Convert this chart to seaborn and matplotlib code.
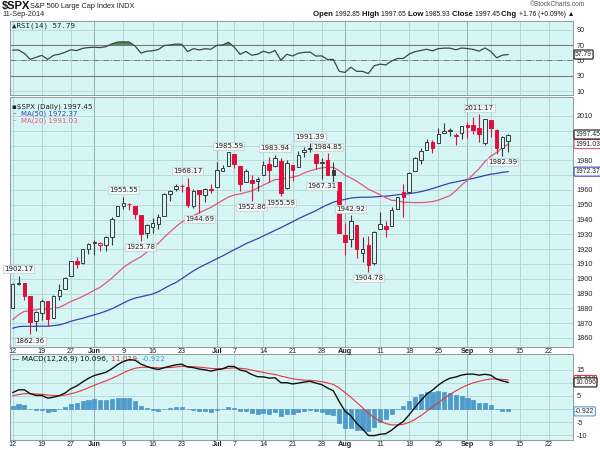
import numpy as np
import pandas as pd
import matplotlib
matplotlib.use("Agg")
import matplotlib.pyplot as plt
import seaborn as sns

sns.set_theme(style="white")
plt.rcParams["font.family"] = ["DejaVu Sans"]

# $SPX daily bars, 12-May-2014 .. 11-Sep-2014
dates = pd.bdate_range("2014-05-12", "2014-09-11")
dates = dates.drop(pd.to_datetime(["2014-05-26", "2014-07-04", "2014-09-01"]))

opens = [1880.03, 1896.75, 1897.13, 1888.16, 1871.19, 1876.66, 1884.88, 1873.34, 1888.19, 1893.32,
         1902.01, 1911.77, 1910.60, 1920.33, 1923.87, 1923.07, 1923.06, 1928.52, 1942.41, 1948.97,
         1950.34, 1949.37, 1943.35, 1930.80, 1934.84, 1937.15, 1942.73, 1957.50, 1960.45, 1962.92,
         1961.97, 1949.27, 1959.89, 1956.56, 1960.79, 1962.29, 1973.06, 1975.88, 1984.22, 1976.39,
         1965.10, 1966.67, 1965.76, 1969.86, 1977.36, 1976.35, 1979.75, 1961.54, 1976.93, 1975.65,
         1985.32, 1988.07, 1984.60, 1978.25, 1980.03, 1973.21, 1965.14, 1929.80, 1926.62, 1936.34,
         1917.29, 1923.03, 1910.35, 1933.43, 1935.73, 1935.60, 1947.41, 1958.87, 1958.36, 1972.73,
         1980.46, 1986.82, 1992.60, 1991.74, 1998.59, 2000.54, 1997.42, 1998.45, 2004.07, 2003.57,
         2001.67, 1992.00, 2007.17, 2000.73, 1988.41, 1992.85]
highs = [1897.13, 1902.17, 1897.13, 1888.16, 1878.28, 1886.00, 1884.88, 1888.80, 1896.33, 1901.26,
         1912.28, 1914.46, 1920.03, 1924.03, 1925.88, 1925.07, 1928.63, 1941.74, 1949.44, 1955.55,
         1950.86, 1949.37, 1943.35, 1937.30, 1941.15, 1943.69, 1957.74, 1959.87, 1963.91, 1963.74,
         1968.17, 1960.83, 1959.89, 1961.47, 1964.24, 1978.58, 1976.67, 1985.59, 1984.22, 1976.39,
         1974.15, 1969.84, 1968.67, 1979.85, 1982.52, 1983.94, 1981.80, 1979.91, 1976.93, 1986.24,
         1989.23, 1991.39, 1984.60, 1981.52, 1984.85, 1978.90, 1965.14, 1937.35, 1942.92, 1936.34,
         1927.91, 1928.89, 1932.38, 1944.90, 1939.20, 1948.41, 1955.23, 1964.04, 1971.99, 1982.57,
         1988.57, 1994.76, 1993.54, 2001.95, 2005.04, 2002.14, 1998.55, 2003.38, 2006.12, 2009.28,
         2011.17, 2007.71, 2007.17, 2001.01, 1996.66, 1997.65]
lows = [1880.03, 1896.06, 1885.77, 1862.36, 1864.82, 1872.42, 1868.14, 1873.34, 1885.39, 1893.32,
        1902.01, 1907.30, 1909.82, 1916.64, 1915.98, 1918.79, 1918.60, 1922.93, 1942.41, 1947.16,
        1946.22, 1940.08, 1925.78, 1927.69, 1930.91, 1933.55, 1942.73, 1952.26, 1959.17, 1958.89,
        1948.34, 1947.49, 1944.69, 1952.18, 1958.22, 1962.29, 1972.58, 1975.88, 1974.88, 1959.46,
        1965.10, 1952.86, 1959.63, 1969.86, 1965.34, 1975.67, 1955.59, 1960.82, 1965.77, 1975.65,
        1982.44, 1985.79, 1974.37, 1967.31, 1969.95, 1962.42, 1930.67, 1916.37, 1921.20, 1913.77,
        1911.45, 1904.78, 1909.01, 1933.43, 1928.29, 1935.60, 1947.41, 1941.50, 1958.36, 1972.73,
        1977.68, 1986.82, 1984.76, 1991.74, 1998.59, 1996.20, 1990.52, 1994.65, 1994.85, 1998.14,
        1992.44, 1990.10, 1995.60, 1984.61, 1982.99, 1985.93]
closes = [1896.65, 1897.45, 1888.53, 1870.85, 1877.86, 1885.08, 1872.83, 1888.03, 1892.49, 1900.53,
          1911.91, 1909.78, 1920.03, 1923.57, 1924.97, 1924.24, 1927.88, 1940.46, 1949.44, 1951.27,
          1950.79, 1943.89, 1930.11, 1936.16, 1937.78, 1941.99, 1956.98, 1959.48, 1962.87, 1962.61,
          1949.98, 1959.53, 1957.22, 1960.96, 1960.23, 1973.32, 1974.62, 1985.44, 1977.65, 1963.71,
          1972.83, 1964.68, 1967.57, 1977.10, 1973.28, 1981.57, 1958.12, 1978.22, 1973.63, 1983.53,
          1987.01, 1987.98, 1978.34, 1978.91, 1969.95, 1970.07, 1930.67, 1925.15, 1938.99, 1920.21,
          1920.24, 1909.57, 1931.59, 1936.92, 1933.75, 1946.72, 1955.18, 1955.06, 1971.74, 1981.60,
          1986.51, 1992.37, 1988.40, 1997.92, 2000.02, 2000.12, 1996.74, 2003.37, 2002.28, 2000.72,
          1997.65, 2007.71, 2001.54, 1988.44, 1995.69, 1997.45]

# closes 3-Mar .. 9-May 2014, needed to warm up MA / MACD / RSI
prior_closes = [1845.73, 1873.91, 1873.81, 1877.03, 1878.04, 1877.17, 1867.63, 1868.20, 1846.34, 1841.13,
                1858.83, 1872.25, 1860.77, 1872.01, 1866.52, 1857.44, 1865.62, 1852.56, 1849.04, 1857.62,
                1872.34, 1885.52, 1890.90, 1888.77, 1865.09, 1845.04, 1851.96, 1872.18, 1833.08, 1815.69,
                1830.61, 1842.98, 1862.31, 1864.85, 1871.89, 1879.55, 1875.39, 1878.61, 1863.40, 1869.43,
                1878.33, 1883.95, 1883.68, 1881.14, 1884.66, 1867.72, 1878.21, 1875.63, 1878.48]

# marked swing highs / lows (bar index)
peak_idx = [1, 19, 30, 37, 45, 51, 54, 58, 80]
trough_idx = [3, 22, 32, 41, 46, 53, 61, 84]

tick_idx = [0, 5, 10, 14, 19, 24, 29, 35, 38, 43, 48, 53, 57, 63, 68, 73, 78, 82, 87, 92]
tick_labels = ["12", "19", "27", "Jun", "9", "16", "23", "Jul", "7", "14", "21", "28",
               "Aug", "11", "18", "25", "Sep", "8", "15", "22"]

last_close = 1997.45
ma50_last, ma20_last = 1972.37, 1991.03
rsi_last = 57.79
macd_last, signal_last, hist_last = 10.096, 11.019, -0.922

# ---- indicators
n = len(closes)
allc = pd.Series(prior_closes + closes)
ma50 = allc.rolling(50).mean().iloc[-n:].values
ma20 = allc.rolling(20).mean().iloc[-n:].values
ema12 = allc.ewm(span=12, adjust=False).mean()
ema26 = allc.ewm(span=26, adjust=False).mean()
macd_all = ema12 - ema26
sig_all = macd_all.ewm(span=9, adjust=False).mean()
macd = macd_all.iloc[-n:].values
signal = sig_all.iloc[-n:].values
hist = macd - signal
d = allc.diff()
gain = d.clip(lower=0).ewm(alpha=1 / 14, adjust=False).mean()
loss = (-d.clip(upper=0)).ewm(alpha=1 / 14, adjust=False).mean()
rsi = (100 - 100 / (1 + gain / loss)).iloc[-n:].values

BG = "#d6f5f5"
GRID = "#b6d4d4"
MONTH = "#93b0b0"
RED = "#e0103c"
DARK = "#3a3a3a"
BLUE_MA = "#3344b0"
RED_MA = "#e4587a"
HIST = "#4d9ccf"
TICKFONT = "Liberation Sans"

fig = plt.figure(figsize=(6, 4.5), dpi=100)
W, H = 600, 450
ax_r = fig.add_axes([10 / W, 1 - 95 / H, 563 / W, 74 / H])
ax = fig.add_axes([10 / W, 1 - 347 / H, 563 / W, 250 / H])
ax_m = fig.add_axes([10 / W, 1 - 440 / H, 563 / W, 86 / H])
ax.set_zorder(3)
x = np.arange(n)

for a in (ax_r, ax, ax_m):
    a.set_facecolor(BG)
    a.set_xlim(-0.46, 96.1)
    for t, lab in zip(tick_idx, tick_labels):
        a.axvline(t, color=MONTH if lab.isalpha() else GRID, lw=0.7, zorder=0.5)
    a.yaxis.tick_right()
    a.tick_params(axis="y", length=0, labelsize=5.2, pad=2.5, colors="#222222")
    a.tick_params(axis="x", length=0, labelsize=5.2, pad=1, colors="#222222")
    a.set_xticks(tick_idx)
    a.set_xticklabels(tick_labels)
    for s in a.spines.values():
        s.set_color("#8c9c9c")
        s.set_linewidth(0.7)
ax_r.set_xticklabels([])

# ---- RSI panel
ax_r.set_ylim(4.8, 101.7)
ax_r.set_yticks([10, 30, 50, 70, 90])
for v in [10, 30, 50, 70, 90]:
    ax_r.axhline(v, color=GRID, lw=0.6, zorder=0.5)
ax_r.axhline(70, color="#7a7a7a", lw=0.8, zorder=1)
ax_r.axhline(30, color="#7a7a7a", lw=0.8, zorder=1)
ax_r.axhline(50, color="#7a7a7a", lw=0.7, ls="-.", zorder=1)
ax_r.fill_between(x, rsi, 70, where=rsi > 70, interpolate=True, color="#4f8a5c", lw=0, zorder=2)
ax_r.fill_between(x, rsi, 30, where=rsi < 30, interpolate=True, color="#4f8a5c", lw=0, zorder=2)
sns.lineplot(x=x, y=rsi, ax=ax_r, color="#444444", lw=0.9, zorder=3)
ax_r.set_ylabel("")
ax_r.text(0.004, 0.93, "\u25b2RSI(14) " + f"{rsi_last:.2f}", transform=ax_r.transAxes,
          fontsize=5.3, va="center", color="#222222", family="DejaVu Sans Mono")

# ---- price panel
ax.set_ylim(1853.9, 2022.8)
pticks = list(range(1860, 2011, 10))
ax.set_yticks(pticks)
ax.set_yticklabels(["" if v in (1970, 1990, 2000) else str(v) for v in pticks])
for v in pticks:
    ax.axhline(v, color=GRID, lw=0.6, zorder=0.5)

sns.lineplot(x=x, y=ma50, ax=ax, color=BLUE_MA, lw=0.9, zorder=2)
sns.lineplot(x=x, y=ma20, ax=ax, color=RED_MA, lw=0.9, zorder=2)

o = np.array(opens)
c = np.array(closes)
prev = np.array([prior_closes[-1]] + closes[:-1])
cols = np.where(c < prev, RED, DARK)
hollow = c >= o
ax.vlines(x, lows, highs, colors=cols, lw=0.8, zorder=3)
lo = np.minimum(o, c)
ht = np.maximum(np.abs(c - o), 0.35)
face = [BG if h else col for h, col in zip(hollow, cols)]
ax.bar(x, ht, bottom=lo, width=0.62, color=face, edgecolor=cols, lw=0.7, zorder=4)

box = dict(boxstyle="square,pad=0.15", fc="#f3f6f6", ec="#c4cccc", lw=0.5)
for i in peak_idx:
    ax.annotate(f"{highs[i]:.2f}", xy=(i, highs[i]), xytext=(0, 2.5), textcoords="offset points",
                ha="center", va="bottom", fontsize=5, color="#222222", bbox=box, zorder=6)
for i in trough_idx:
    ax.annotate(f"{lows[i]:.2f}", xy=(i, lows[i]), xytext=(0, -2.5), textcoords="offset points",
                ha="center", va="top", fontsize=5, color="#222222", bbox=box, zorder=6)

ax.text(0.004, 0.961, "\u25aa\\$SPX (Daily) " + f"{last_close:.2f}", transform=ax.transAxes,
        fontsize=5.1, va="center", color="#222222")
ax.text(0.004, 0.934, "\u2013", transform=ax.transAxes, fontsize=5, va="center", color=BLUE_MA)
ax.text(0.019, 0.934, f"MA(50) {ma50_last:.2f}", transform=ax.transAxes, fontsize=5,
        va="center", color=BLUE_MA)
ax.text(0.004, 0.907, "\u2013", transform=ax.transAxes, fontsize=5, va="center", color=RED_MA)
ax.text(0.019, 0.907, f"MA(20) {ma20_last:.2f}", transform=ax.transAxes, fontsize=5,
        va="center", color=RED_MA)

for a in (ax_r, ax, ax_m):
    for lbl in a.get_xticklabels() + a.get_yticklabels():
        lbl.set_family(TICKFONT)
        if lbl.get_text().isalpha():
            lbl.set_fontweight("bold")


def tag(a, v, txt, ec):
    a.annotate(txt, xy=(1, v), xycoords=a.get_yaxis_transform(), xytext=(1.5, 0),
               textcoords="offset points", va="center", ha="left", fontsize=4.9, color="#222222",
               family=TICKFONT,
               bbox=dict(boxstyle="round,pad=0.15", fc="white", ec=ec, lw=0.8),
               annotation_clip=False, zorder=10)


tag(ax, ma20_last, f"{ma20_last:.2f}", RED_MA)
tag(ax, last_close, f"{last_close:.2f}", "#111111")
tag(ax, ma50_last, f"{ma50_last:.2f}", BLUE_MA)
tag(ax_r, rsi_last, f"{rsi_last:.2f}", "#111111")

# ---- MACD panel
ax_m.set_ylim(-11.8, 20.9)
mticks = [-10, -5, 0, 5, 10, 15]
ax_m.set_yticks(mticks)
ax_m.set_yticklabels(["" if v in (0, 10) else str(v) for v in mticks], family=TICKFONT)
for v in mticks:
    ax_m.axhline(v, color=GRID, lw=0.6, zorder=0.5)
ax_m.bar(x, hist, width=0.7, color=HIST, edgecolor="#3b86bb", lw=0.4, zorder=2)
sns.lineplot(x=x, y=signal, ax=ax_m, color="#e8343c", lw=0.8, zorder=3)
sns.lineplot(x=x, y=macd, ax=ax_m, color="#111111", lw=1.0, zorder=4)
tag(ax_m, signal_last, f"{signal_last:.3f}", "#e8343c")
tag(ax_m, macd_last, f"{macd_last:.3f}", "#111111")
tag(ax_m, hist_last, f"{hist_last:.3f}", HIST)

r = fig.canvas.get_renderer()

xs = 0.004
for s, col in [("\u2014 MACD(12,26,9) " + f"{macd_last:.3f}, ", "#111111"),
               (f"{signal_last:.3f}, ", "#e8343c"),
               (f"{hist_last:.3f}", "#3f9ad6")]:
    t = ax_m.text(xs, 0.94, s, transform=ax_m.transAxes, va="center", fontsize=5.3, color=col)
    xs += t.get_window_extent(r).width / ax_m.bbox.width

# ---- header
fig.text(2 / W, 1 - 6 / H, "\\$SPX", fontsize=8, fontweight="bold", va="center", color="#111111",
         family=TICKFONT)
fig.text(30 / W, 1 - 6 / H, "S&P 500 Large Cap Index INDX", fontsize=5.3, va="center",
         color="#222222", family=TICKFONT)
fig.text(2 / W, 1 - 15 / H, "11-Sep-2014", fontsize=5.3, va="center", color="#222222",
         family=TICKFONT)
fig.text(585 / W, 1 - 5 / H, "\u00a9StockCharts.com", fontsize=4.8, va="center", ha="right",
         color="#555555", family=TICKFONT)

parts = [("Open ", "bold"), ("1992.85 ", "normal"),
         ("High ", "bold"), ("1997.65 ", "normal"),
         ("Low ", "bold"), ("1985.93 ", "normal"),
         ("Close ", "bold"), ("1997.45 ", "normal"),
         ("Chg ", "bold"), ("+1.76 (+0.09%) \u25b2", "normal")]
sizes = {"bold": 5.6, "normal": 4.9}
# measure the whole run, then place it so it ends at the panel edge
tot = 0
for s, wgt in parts:
    t = fig.text(0, 0, s, fontsize=sizes[wgt], fontweight=wgt, family=TICKFONT)
    tot += t.get_window_extent(r).width
    t.remove()
xs = 574 - tot
for s, wgt in parts:
    t = fig.text(xs / W, 1 - 15 / H, s, fontsize=sizes[wgt], fontweight=wgt, va="center",
                 color="#111111", family=TICKFONT)
    xs += t.get_window_extent(r).width

fig.savefig("out.png", dpi=100)
